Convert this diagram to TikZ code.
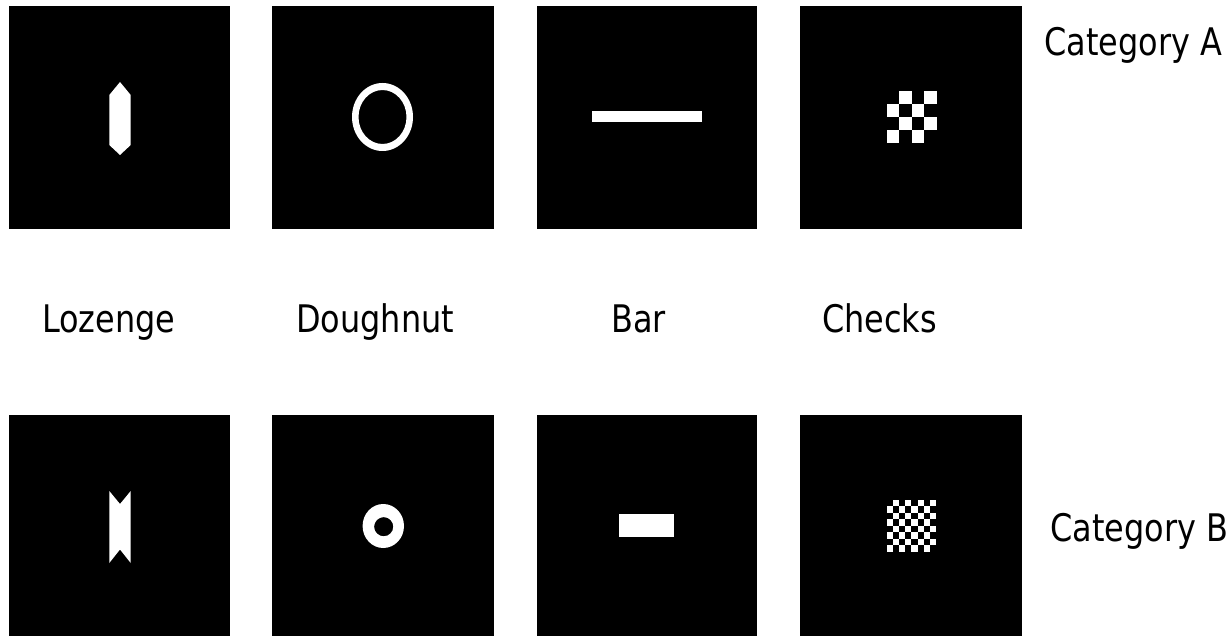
\documentclass[tikz,border=0pt]{standalone}
\usepackage{fontspec}
\setmainfont{DejaVu Sans}[FakeStretch=0.84]

\tikzset{
  panel/.style={fill=black},
  glyph/.style={fill=white},
  caption/.style={font=\fontsize{38}{40}\selectfont, anchor=base west, inner sep=0pt}
}

\begin{document}
\begin{tikzpicture}[x=1pt,y=-1pt]
      \useasboundingbox (0,0) rectangle (1231,636);
      % black panels, two rows
      \foreach \x/\w in {9/221,272/222,537/220,800/222} {
        \fill[panel] (\x,6) rectangle ++(\w,223);
        \fill[panel] (\x,415) rectangle ++(\w,222);
      }
      % category A
      \fill[glyph] (120,82) -- (130.7,95) -- (130.7,145) -- (120,155) -- (109.3,145) -- (109.3,95) -- cycle;
      \fill[glyph, even odd rule] (382.5,117) ellipse [x radius=30.5, y radius=34]
                                  (382.5,117) ellipse [x radius=24, y radius=27];
      \fill[glyph] (592,111) rectangle (702,122.5);
      \foreach \j in {0,...,3}
        \foreach \k in {0,1} {
          \pgfmathtruncatemacro\i{2*\k+1-mod(\j,2)}
          \fill[glyph] (886.5+12.5*\i,91+13*\j) rectangle ++(12.5,13);
        }
      % category B
      \fill[glyph] (109.3,491) -- (120,504) -- (130.7,491) -- (130.7,563) -- (120,549.5) -- (109.3,563) -- cycle;
      \fill[glyph, even odd rule] (383.3,526) ellipse [x radius=20.7, y radius=22]
                                  (383.7,526.7) circle [radius=9.6];
      \fill[glyph] (619.3,514.3) rectangle (674.3,537.3);
      \foreach \j in {0,...,7}
        \foreach \k in {0,...,3} {
          \pgfmathtruncatemacro\i{2*\k+1-mod(\j,2)}
          \fill[glyph] (886.5+6.2*\i,500+6.45*\j) rectangle ++(6.2,6.45);
        }
      % labels
      \node[caption] (lozenge)  at (42,332)   {Lozenge};
      \node[caption] (doughnut) at (296,332)  {Doughnut};
      \node[caption] (bar)      at (611,332)  {Bar};
      \node[caption] (checks)   at (822,332)  {Checks};
      \node[caption] (catA)     at (1044,56)  {Category A};
      \node[caption] (catB)     at (1050,541) {Category B};
    \end{tikzpicture}
\end{document}
